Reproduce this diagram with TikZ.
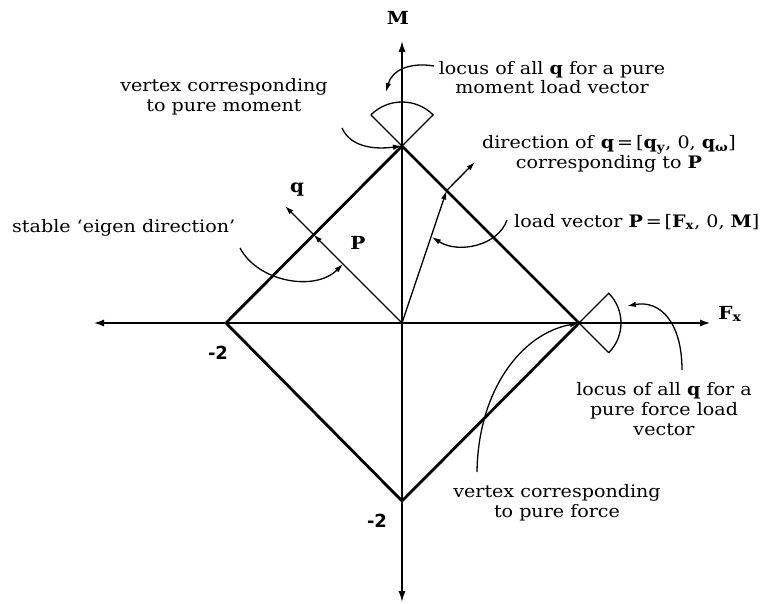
\documentclass[tikz,border=0pt]{standalone}
\usepackage{fontspec}
\setmainfont{DejaVu Serif}[FakeStretch=1.11]
\newfontfamily\numfont{DejaVu Sans}
\usetikzlibrary{arrows.meta}
\begin{document}
\begin{tikzpicture}[x=1pt,y=-1pt,
  txt/.style={font=\fontsize{17.2}{19.8}\selectfont, inner sep=0pt, align=center},
  lbl/.style={font=\fontsize{18}{20}\selectfont\bfseries, inner sep=0pt},
  num/.style={font=\fontsize{18}{20}\selectfont\numfont\bfseries, inner sep=0pt},
  edgeline/.style={line width=2.8pt, line join=miter},
  haxis/.style={line width=2.2pt, {Latex[length=11pt,width=7pt]}-{Latex[length=11pt,width=7pt]}},
  vaxis/.style={line width=1.5pt, {Latex[length=11pt,width=7pt]}-{Latex[length=11pt,width=7pt]}},
  tip/.style={line width=1.3pt, -{Latex[length=9pt,width=5.5pt]}},
  thinline/.style={line width=1.3pt},
]
\useasboundingbox (0,0) rectangle (763,604);
% key points
\coordinate (O) at (402,323);
\coordinate (T) at (402,146);
\coordinate (B) at (402,501);
\coordinate (L) at (226,323);
\coordinate (R) at (579,323);
\coordinate (XL) at (93,323);
\coordinate (XR) at (711,323);
\coordinate (YT) at (402,41);
\coordinate (YB) at (402,602);
% axes
\draw[haxis] (XL) -- (XR);
\draw[vaxis] (YB) -- (YT);
% diamond
\draw[edgeline] (T) -- (R) -- (B) -- (L) -- cycle;
% wedges
\draw[thinline] (T) ++(-135:44) -- (T) -- ++(-45:44) arc[start angle=-45, end angle=-135, radius=44];
\draw[thinline] (R) ++(45:42) -- (R) -- ++(-45:42) arc[start angle=-45, end angle=45, radius=42];
% load vectors and q directions
\coordinate (E1) at (313.5,234.5);
\coordinate (Q1) at (285,206);
\coordinate (E2) at (446.6,190.6);
\coordinate (Q2) at (475,162);
\draw[tip] (O) -- (E1);
\draw[tip] (E1) -- (Q1);
\draw[tip] (O) -- (E2);
\draw[tip] (E2) -- (Q2);
% labels
\node[lbl] (lM) at (398,18) {M};
\node[lbl] (lF) at (730,314) {F\textsubscript{x}};
\node[num] (m2a) at (218,353) {-2};
\node[num] (m2b) at (377,521) {-2};
\node[lbl] (lq) at (297,190) {q};
\node[lbl] (lP) at (358,243) {P};
% annotations
\node[txt] (tlm) at (552,77.5) {locus of all \textbf{q} for a pure\\moment load vector};
\node[txt] (tvm) at (224,96.5) {vertex corresponding\\to pure moment};
\node[txt] (tdir) at (609,154) {direction of \textbf{q}\,=\,[\textbf{q}\textsubscript{\textbf{y}}, 0, \textbf{q}\textsubscript{\textbf{ω}}]\\corresponding to \textbf{P}};
\node[txt, anchor=west] (tlv) at (514,222) {load vector \textbf{P}\,=\,[\textbf{F}\textsubscript{\textbf{x}}, 0, \textbf{M}]};
\node[txt, anchor=west] (tse) at (12,228) {stable `eigen direction'};
\node[txt] (tlf) at (664,409) {locus of all \textbf{q} for a\\pure force load\\vector};
\node[txt] (tvf) at (557,502.5) {vertex corresponding\\to pure force};
% curved pointer arrows
\coordinate (a1) at (434,66);
\coordinate (a1e) at (386,92);
\draw[tip] (a1) .. controls (410,62) and (392,70) .. (a1e);
\coordinate (a2) at (342,128);
\draw[tip] (a2) .. controls (350,146) and (372,150) .. (T);
\coordinate (a3) at (240,248);
\coordinate (a3e) at (343,264);
\draw[tip] (a3) .. controls (258,282) and (315,292) .. (a3e);
\coordinate (a4) at (507,220);
\coordinate (a4e) at (432,237);
\draw[tip] (a4) .. controls (498,246) and (458,254) .. (a4e);
\coordinate (a5) at (682,370);
\coordinate (a5e) at (627,306);
\draw[tip] (a5) .. controls (682,322) and (660,300) .. (a5e);
\coordinate (a6) at (477,472);
\draw[tip] (a6) .. controls (478,392) and (520,334) .. (R);
\end{tikzpicture}
\end{document}
